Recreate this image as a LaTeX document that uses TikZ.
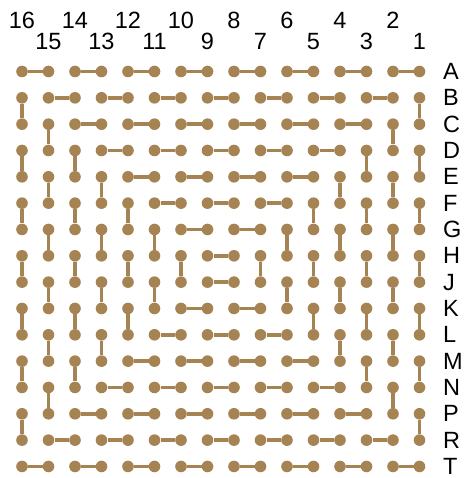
\documentclass[tikz,border=0pt]{standalone}
\usepackage{fontspec}
\setmainfont{Liberation Sans}
\definecolor{trace}{RGB}{166,131,82}

\begin{document}
\begin{tikzpicture}[
  x=1pt, y=-1pt,
  hole/.style={circle, fill=trace, inner sep=0pt, minimum size=11.6pt},
  link/.style={draw=trace, line width=3.7pt},
  lbl/.style={inner sep=0pt, font=\fontsize{23.5}{28}\selectfont}
]
  \useasboundingbox (0,0) rectangle (465,478);

  % holes
  \foreach \rw in {0,...,15}
    \foreach \cl in {0,...,15}
      \node[hole] (h-\rw-\cl) at (22+26.5*\cl, 71.5+26.33*\rw) {};

  % column numbers, staggered
  \foreach \cl in {0,...,15} {
    \pgfmathtruncatemacro\num{16-\cl}
    \pgfmathsetmacro\ly{mod(\cl,2)==0 ? 20 : 41.7}
    \node[lbl] (col-\num) at (22+26.5*\cl, \ly) {\num};
  }

  % row letters
  \foreach \rl [count=\rw from 0] in {A,B,C,D,E,F,G,H,J,K,L,M,N,P,R,T}
    \node[lbl, anchor=west] (row-\rl) at (443, 71.5+26.33*\rw) {\rl};

  % rings: top and bottom rows
  \foreach \k in {0,...,7} {
    \pgfmathtruncatemacro\n{7-\k}
    \pgfmathtruncatemacro\rb{15-\k}
    \foreach \i in {0,...,\n} {
      \pgfmathtruncatemacro\ca{\k+2*\i}
      \pgfmathtruncatemacro\cb{\ca+1}
      \draw[link] (h-\k-\ca) -- (h-\k-\cb);
      \draw[link] (h-\rb-\ca) -- (h-\rb-\cb);
    }
  }

  % rings: left and right sides
  \foreach \k in {0,...,6} {
    \pgfmathtruncatemacro\n{6-\k}
    \pgfmathtruncatemacro\cr{15-\k}
    \foreach \i in {0,...,\n} {
      \pgfmathtruncatemacro\ra{\k+1+2*\i}
      \pgfmathtruncatemacro\rn{\ra+1}
      \draw[link] (h-\ra-\k) -- (h-\rn-\k);
      \draw[link] (h-\ra-\cr) -- (h-\rn-\cr);
    }
  }
\end{tikzpicture}
\end{document}
